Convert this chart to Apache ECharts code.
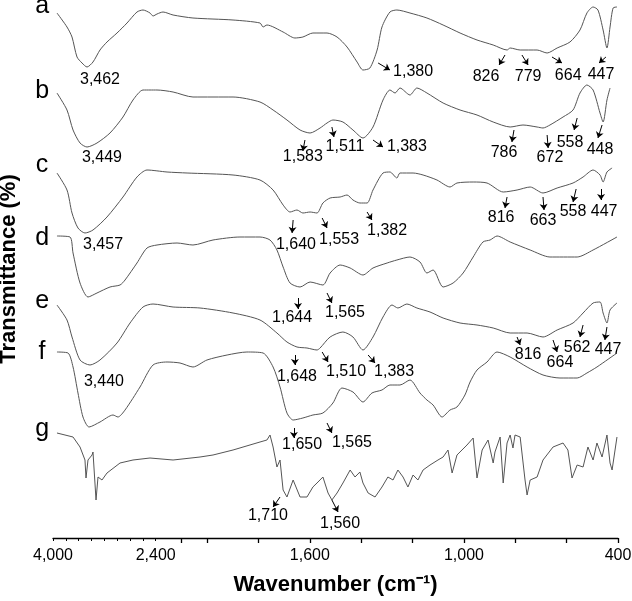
<!DOCTYPE html>
<html><head><meta charset="utf-8">
<script src="https://cdn.jsdelivr.net/npm/echarts@6/dist/echarts.min.js"></script>
<style>html,body{margin:0;padding:0;background:#fff}#c{width:632px;height:601px}</style>
</head><body><div id="c"></div>
<script>
// Wavenumber ticks and labels (cm-1)
const majorTicks = [2200, 2000, 1800, 1600, 1400, 1200, 1000, 800, 600, 400];
const minorTicks = [4000, 3800, 3600, 3400, 3200, 3000, 2800, 2600, 2400];
const tickLabels = [4000, 2400, 1600, 1000, 400];

// Spectra: [wavenumber, transmittance (a.u., vertically offset)]
const specA = [[3938,525],[3782,511],[3704,501],[3626,481],[3548,475],[3470,471],[3377,476],[3268,488],[3159,496],[3003,505],[2847,515],[2692,526],[2598,528],[2489,525],[2442,522],[2390,524],[2343,526],[2265,523],[2110,520],[1899,518],[1794,515],[1782,511],[1767,513],[1704,506],[1658,500],[1627,501],[1588,505],[1533,505],[1494,501],[1455,491],[1416,476],[1393,468],[1366,470],[1338,488],[1319,511],[1288,526],[1261,528],[1210,525],[1144,520],[1081,513],[1015,505],[949,498],[886,493],[832,488],[820,490],[781,488],[715,488],[676,485],[637,490],[587,496],[548,508],[521,525],[497,531],[478,528],[458,508],[443,490],[431,511],[419,530],[404,531]];
const specB = [[3938,445],[3782,428],[3688,408],[3579,395],[3470,391],[3315,395],[3112,405],[2910,421],[2754,438],[2598,448],[2489,448],[2390,448],[2265,446],[2110,441],[1899,441],[1794,436],[1743,428],[1689,418],[1638,408],[1599,405],[1560,410],[1533,415],[1510,418],[1471,416],[1432,408],[1393,400],[1354,411],[1315,438],[1288,448],[1268,445],[1249,450],[1210,443],[1183,450],[1144,445],[1081,435],[1015,428],[949,423],[886,416],[820,411],[770,413],[715,411],[692,410],[665,413],[614,421],[575,428],[548,445],[521,453],[497,448],[470,425],[458,416],[443,438],[431,450]];
const specC = [[3938,365],[3782,348],[3704,325],[3611,310],[3502,305],[3377,308],[3159,321],[2910,341],[2692,361],[2536,368],[2312,366],[2156,365],[1899,363],[1794,358],[1743,348],[1704,333],[1677,326],[1650,328],[1627,325],[1599,326],[1572,325],[1549,335],[1521,340],[1482,341],[1455,343],[1432,338],[1405,335],[1377,335],[1354,348],[1315,365],[1288,366],[1261,360],[1249,365],[1198,365],[1159,363],[1105,358],[1054,351],[1027,355],[964,356],[910,355],[847,346],[793,348],[742,351],[692,345],[637,350],[575,355],[536,361],[497,368],[470,363],[458,356],[443,366],[423,370]];
const specD = [[3938,302],[3735,301],[3688,285],[3579,255],[3455,241],[3315,245],[3112,251],[2956,253],[2878,258],[2692,275],[2536,290],[2390,293],[2234,295],[2110,293],[1977,298],[1872,301],[1794,301],[1755,298],[1728,288],[1704,271],[1677,255],[1638,251],[1599,256],[1549,253],[1521,265],[1482,273],[1443,270],[1393,263],[1354,270],[1299,275],[1261,278],[1210,281],[1171,276],[1144,265],[1120,268],[1081,251],[1042,255],[1003,265],[964,281],[926,296],[898,298],[871,302],[820,296],[742,288],[665,281],[559,281],[497,288],[404,301]];
const specE = [[3938,233],[3782,218],[3704,201],[3579,178],[3424,173],[3268,178],[3003,195],[2800,215],[2598,231],[2442,234],[2265,231],[2055,230],[1899,225],[1794,218],[1728,205],[1689,196],[1650,191],[1611,190],[1572,188],[1560,190],[1521,201],[1471,206],[1432,201],[1393,188],[1354,201],[1315,221],[1280,233],[1257,230],[1222,234],[1183,230],[1132,226],[1081,220],[1015,215],[949,213],[886,210],[820,205],[754,205],[692,201],[637,208],[575,215],[536,225],[497,235],[470,236],[458,225],[443,215],[431,228],[404,235]];
const specF = [[3938,186],[3766,185],[3688,171],[3611,145],[3533,121],[3439,111],[3268,116],[3065,123],[2988,121],[2878,128],[2645,151],[2442,173],[2312,176],[2211,175],[2110,171],[2001,178],[1922,183],[1845,186],[1782,185],[1743,171],[1716,151],[1689,125],[1665,118],[1627,120],[1588,123],[1549,125],[1510,135],[1475,150],[1432,146],[1393,136],[1358,145],[1319,148],[1288,153],[1249,153],[1210,158],[1171,145],[1144,138],[1120,133],[1085,121],[1054,128],[1027,131],[996,143],[976,156],[949,168],[910,176],[871,186],[820,181],[754,171],[692,163],[626,160],[559,160],[521,165],[482,171],[404,185]];
const specG = [[3938,105],[3688,101],[3579,91],[3502,78],[3486,60],[3455,78],[3392,83],[3377,86],[3330,38],[3299,61],[3237,58],[3159,65],[2956,75],[2754,78],[2489,80],[2265,78],[2055,81],[1977,83],[1899,88],[1794,96],[1767,98],[1755,103],[1743,91],[1728,71],[1716,78],[1704,48],[1689,41],[1665,58],[1638,41],[1611,41],[1588,51],[1572,55],[1549,61],[1529,45],[1514,38],[1494,45],[1471,55],[1443,68],[1424,61],[1405,66],[1393,55],[1373,45],[1346,41],[1319,51],[1296,61],[1276,58],[1257,68],[1237,61],[1218,51],[1198,63],[1179,58],[1159,68],[1132,73],[1101,78],[1081,81],[1062,88],[1046,65],[1027,83],[988,93],[964,100],[949,60],[929,88],[906,98],[886,75],[879,86],[859,101],[847,55],[832,95],[820,103],[809,90],[801,103],[781,101],[762,58],[754,43],[742,58],[715,61],[692,78],[653,91],[614,95],[595,88],[579,60],[559,73],[536,71],[517,91],[497,78],[482,95],[462,81],[443,103],[431,75],[423,68],[404,101]];
const spectra = [specA, specB, specC, specD, specE, specF, specG];

// Panel letters: [text, wavenumber, value]
const panelLetters = [['a',4170,532],['b',4170,447],['c',4170,373],['d',4170,300],['e',4170,237],['f',4170,186],['g',4170,109]];

// Peak labels: [text, wavenumber, value]
const peakLabels = [
 ['3,462',3268,458],['1,380',1198,466],['826',914,461],['779',750,461],['664',594,462],['447',466,463],
 ['3,449',3237,380],['1,583',1627,381],['1,511',1463,391],['1,383',1222,391],['786',844,385],['672',665,380],['558',587,395],['448',470,388],
 ['3,457',3221,293],['1,640',1654,293],['1,553',1486,298],['1,382',1299,307],['816',855,320],['663',692,317],['558',575,326],['447',454,326],
 ['1,644',1669,220],['1,565',1463,225],
 ['3,440',3206,156],['1,648',1650,161],['1,510',1459,166],['1,383',1272,166],['816',750,183],['664',626,175],['562',559,190],['447',439,188],
 ['1,650',1630,93],['1,565',1436,95],
 ['1,710',1763,22],['1,560',1482,14]
];

// Arrows: [wavenumber from, value from, wavenumber to, value to]
const arrows = [
 [1334,475,1288,468],[840,483,863,473],[774,483,750,473],[657,481,618,475],[447,481,474,475],
 [1619,398,1627,387],[1514,411,1506,401],[1354,398,1315,391],[805,408,813,396],[676,403,672,390],[559,420,571,408],[462,413,478,400],
 [1665,318,1669,305],[1552,320,1533,310],[1377,326,1358,318],[832,341,840,330],[692,341,688,328],[563,349,575,336],[466,349,466,338],
 [1646,240,1646,229],[1533,245,1514,235],
 [1658,183,1658,173],[1552,186,1529,176],[1373,183,1346,175],[793,201,781,193],[653,198,637,186],[536,213,548,201],[443,211,451,198],
 [1662,110,1662,100],[1533,115,1514,105],
 [1716,41,1743,31],[1514,38,1490,26]
];

// Broken wavenumber scale: 4000-2400 at 1/4, 2400-2000 at 1/2, 2000-400 at full scale
function toU(w){
  if (w >= 2400) return (4000 - w) / 4;
  if (w >= 2000) return 400 + (2400 - w) / 2;
  return 600 + (2000 - w);
}
function fromU(u){
  if (u <= 400) return 4000 - 4 * u;
  if (u <= 600) return 2400 - 2 * (u - 400);
  return 2000 - (u - 600);
}
function fmt(n){ return String(Math.round(n)).replace(/\B(?=(\d{3})+(?!\d))/g, ','); }

const FONT = 'Liberation Sans, Arial, sans-serif';
const chart = echarts.init(document.getElementById('c'), null, {renderer:'canvas'});

const series = spectra.map(s => ({
  type:'line', data: s.map(([w,v]) => [toU(w), v]), symbol:'none', showSymbol:false,
  smooth: s === specG ? false : 0.25, lineStyle:{color:'#555', width:1}, silent:true, animation:false, clip:false
}));
series.push({
  type:'lines', coordinateSystem:'cartesian2d', silent:true, animation:false,
  symbol:['none','arrow'], symbolSize:[0,6],
  lineStyle:{color:'#000', width:1, opacity:1},
  data: arrows.map(([w1,v1,w2,v2]) => ({coords:[[toU(w1),v1],[toU(w2),v2]]}))
});
series.push({
  type:'scatter', symbolSize:0, silent:true, animation:false, clip:false,
  itemStyle:{opacity:1},
  data: peakLabels.map(([t,w,v]) => ({value:[toU(w),v], label:{formatter:t}})),
  label:{show:true, position:'inside', fontSize:16, color:'#000', opacity:1, textBorderWidth:0, fontFamily:FONT}
});
series.push({
  type:'scatter', symbolSize:0, silent:true, animation:false, clip:false,
  itemStyle:{opacity:1},
  data: panelLetters.map(([t,w,v]) => ({value:[toU(w),v], label:{formatter:t}})),
  label:{show:true, position:'inside', fontSize:25, color:'#000', opacity:1, textBorderWidth:0, fontFamily:FONT}
});

chart.setOption({
  animation:false,
  backgroundColor:'#fff',
  grid:{left:53, right:14, top:0, bottom:63, containLabel:false, outerBoundsMode:'none'},
  xAxis:[{
    type:'value', min:0, max:2200, position:'bottom',
    name:'Wavenumber (cm\u207B\u00B9)', nameLocation:'middle', nameGap:36,
    nameTextStyle:{fontSize:22, fontWeight:'bold', color:'#000', fontFamily:FONT},
    axisLine:{show:true, lineStyle:{color:'#000', width:1.3}},
    axisTick:{show:true, length:5, lineStyle:{color:'#000', width:1.3}, customValues: majorTicks.map(toU)},
    axisLabel:{show:true, margin:10, fontSize:16, color:'#000', fontFamily:FONT, customValues: tickLabels.map(toU), formatter: v => fmt(fromU(v))},
    splitLine:{show:false}
  },{
    type:'value', min:0, max:2200, position:'bottom',
    axisLine:{show:false},
    axisTick:{show:true, length:3, lineStyle:{color:'#000', width:1}, customValues: minorTicks.map(toU)},
    axisLabel:{show:false}, splitLine:{show:false}
  }],
  yAxis:{
    type:'value', min:0, max:538,
    name:'Transmittance (%)', nameLocation:'middle', nameGap:33, nameRotate:90,
    nameTextStyle:{fontSize:22, fontWeight:'bold', color:'#000', fontFamily:FONT},
    axisLine:{show:false}, axisTick:{show:false}, axisLabel:{show:false}, splitLine:{show:false}
  },
  series: series
});
</script>
</body></html>
